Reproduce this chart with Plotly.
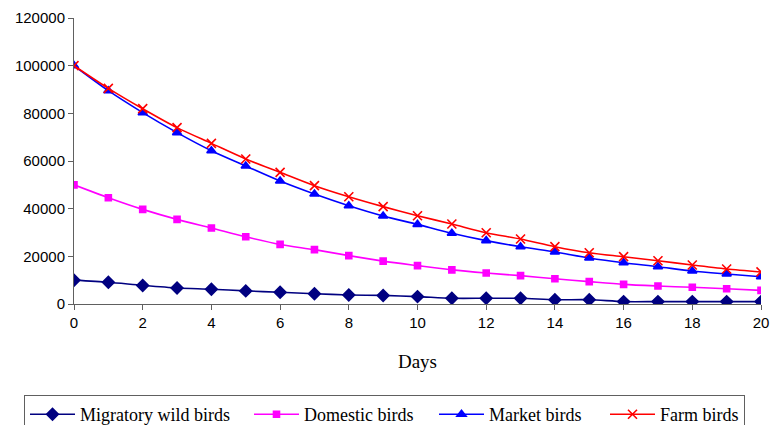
import plotly.graph_objects as go

days = list(range(0, 21))
tick_vals = list(range(0, 21, 2))
y_ticks = [0, 20000, 40000, 60000, 80000, 100000, 120000]

migratory = [10000, 9100, 7800, 6700, 6200, 5500, 4900, 4300, 3800, 3600, 3100,
             2400, 2400, 2400, 1800, 1800, 1000, 1000, 1000, 1000, 1000]
domestic = [50000, 44600, 39700, 35500, 31900, 28200, 25000, 22800, 20300, 18000, 16100,
            14300, 13000, 11900, 10600, 9400, 8250, 7550, 7000, 6400, 5700]
market = [100000, 89500, 80300, 71900, 64300, 57900, 51600, 46150, 41250, 36950, 33400,
          29700, 26600, 24000, 21800, 19300, 17300, 15650, 13850, 12600, 11450]
farm = [100000, 90500, 81950, 74000, 67400, 60850, 55250, 49650, 45000, 40850, 37050,
        33550, 29900, 27250, 24050, 21500, 19850, 18150, 16350, 14700, 13450]

series = [
    ("Migratory wild birds", migratory, "#000080", "diamond", 9),
    ("Domestic birds", domestic, "#FF00FF", "square", 6),
    ("Market birds", market, "#0000FF", "triangle-up", 8),
    ("Farm birds", farm, "#FF0000", "x-thin", 9),
]
entry_widths = [164, 125, 111, 79]

fig = go.Figure()
for (name, vals, color, sym, size), ew in zip(series, entry_widths):
    fig.add_trace(go.Scatter(
        x=days, y=vals, name=name, mode="lines+markers",
        line=dict(color=color, width=1.6, shape="spline", smoothing=0.8),
        marker=dict(symbol=sym, size=size, color=color,
                    line=dict(color=color, width=1.6)),
        legendwidth=ew,
    ))

fig.update_layout(
    width=772, height=425,
    margin=dict(l=74, r=11, t=18, b=121, autoexpand=False),
    paper_bgcolor="white", plot_bgcolor="white",
    showlegend=True,
    legend=dict(
        orientation="h", xref="paper", yref="paper",
        x=(24 - 74) / 687, xanchor="left", y=-(395 - 304) / 286, yanchor="top",
        bordercolor="#606060", borderwidth=1,
        font=dict(family="Liberation Serif", size=18, color="black"),
        itemwidth=45, tracegroupgap=0,
    ),
    xaxis=dict(
        range=[0, 20], tickvals=tick_vals, ticks="outside", ticklen=5,
        tickcolor="#606060", showline=True, linecolor="#606060", linewidth=1,
        showgrid=False, zeroline=False,
        tickfont=dict(family="Liberation Sans", size=15, color="black"),
        title=dict(text="Days", font=dict(family="Liberation Serif", size=19, color="black"),
                   standoff=24),
    ),
    yaxis=dict(
        range=[0, 120000], tickvals=y_ticks, tickformat="d", ticks="outside", ticklen=5,
        tickcolor="#606060", showline=True, linecolor="#606060", linewidth=1,
        showgrid=False, zeroline=False,
        tickfont=dict(family="Liberation Sans", size=15, color="black"),
    ),
)

fig.write_html("out.html")
